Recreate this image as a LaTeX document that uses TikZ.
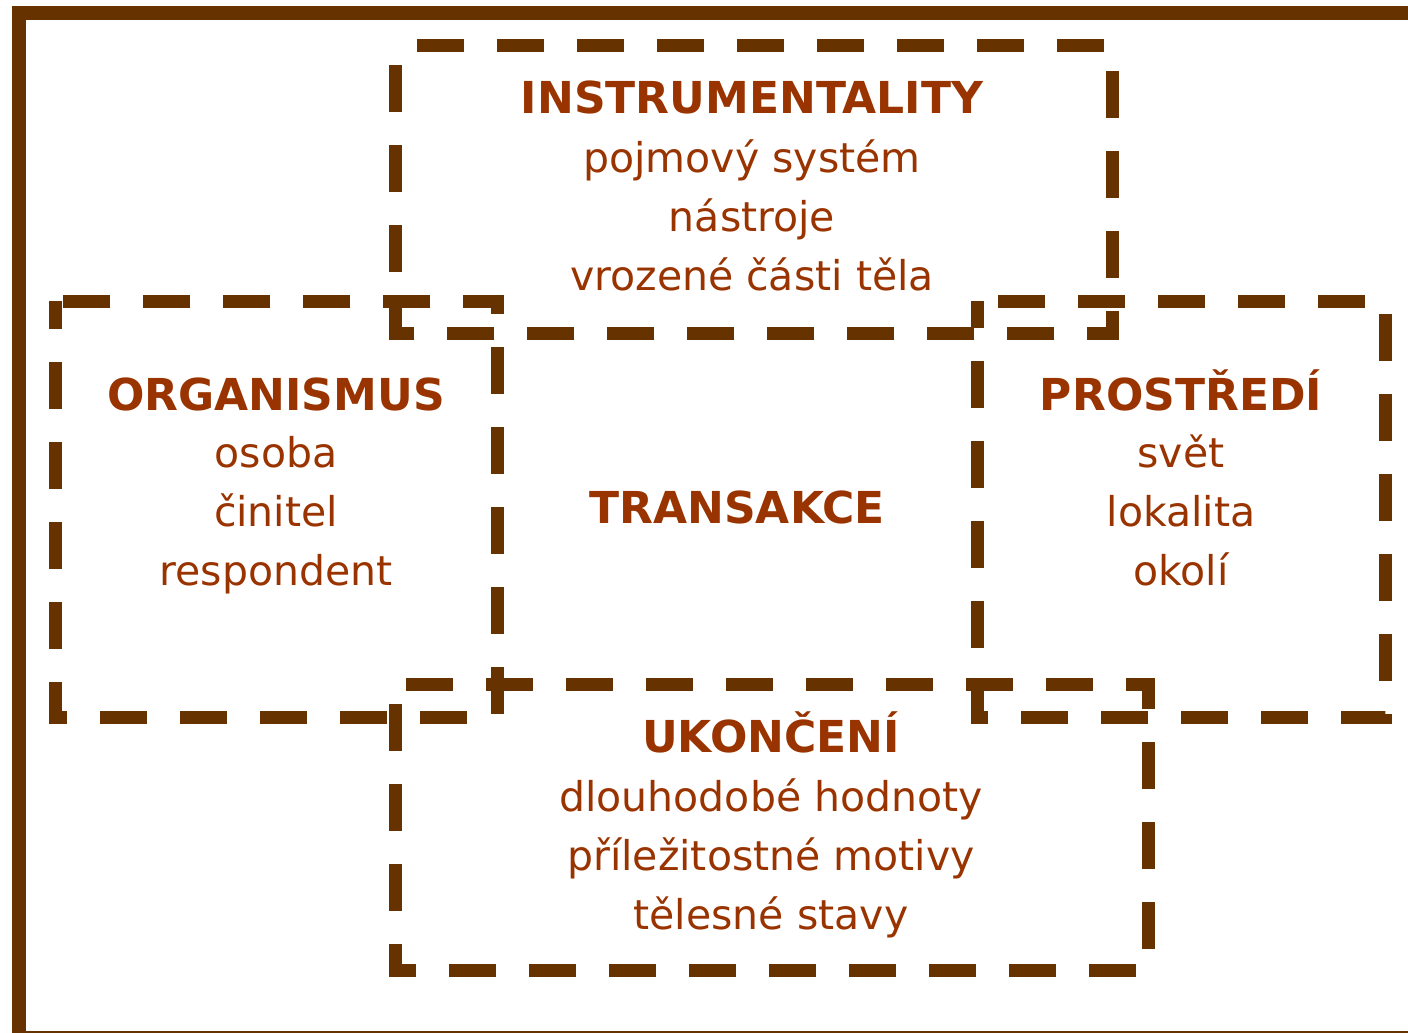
\documentclass[tikz,border=0pt]{standalone}
\usepackage{fontspec}
\setmainfont{DejaVu Sans}
\definecolor{boxbrown}{RGB}{102,51,0}
\definecolor{txtbrown}{RGB}{153,51,0}

\begin{document}
\begin{tikzpicture}[x=1pt, y=-1pt, line join=miter, line cap=butt]
	\tikzset{every node/.style={inner sep=0pt, text=txtbrown, anchor=base},
		head/.style={font=\fontsize{44}{52}\selectfont\bfseries},
		item/.style={font=\fontsize{41}{49}\selectfont},
		dbox/.style={draw=boxbrown, line width=13pt, dash pattern=on 47pt off 33pt}}
	\useasboundingbox (0,0) rectangle (1408,1033);
	\clip (0,0) rectangle (1408,1033);
	\draw[boxbrown, line width=14pt] (19,13) rectangle (1424,1038);
	% the four dashed boxes
	\draw[dbox, dash phase=58pt] (395,46)--(1112,46)--(1112,333)--(395,333)--cycle;
	\draw[dbox, dash phase=72pt] (55,301)--(497,301)--(497,717)--(55,717)--cycle;
	\draw[dbox, dash phase=59pt] (977,301)--(1385,301)--(1385,717)--(977,717)--cycle;
	\draw[dbox, dash phase=69pt] (395,684)--(1148,684)--(1148,970)--(395,970)--cycle;
	% texts
	\node[head] (instr) at (752,113) {INSTRUMENTALITY};
	\foreach \t [count=\i] in {pojmový systém, nástroje, vrozené části těla}
	\node[item] (instr\i) at (752,113+59*\i) {\t};
	\node[head] (organ) at (276,410) {ORGANISMUS};
	\foreach \t [count=\i] in {osoba, činitel, respondent}
	\node[item] (organ\i) at (276,408+59*\i) {\t};
	\node[head] (prostr) at (1181,410) {PROSTŘEDÍ};
	\foreach \t [count=\i] in {svět, lokalita, okolí}
	\node[item] (prostr\i) at (1181,408+59*\i) {\t};
	\node[head] (trans) at (737,523) {TRANSAKCE};
	\node[head] (ukon) at (771,752) {UKONČENÍ};
	\foreach \t [count=\i] in {dlouhodobé hodnoty, příležitostné motivy, tělesné stavy}
	\node[item] (ukon\i) at (771,752+59*\i) {\t};
\end{tikzpicture}
\end{document}
